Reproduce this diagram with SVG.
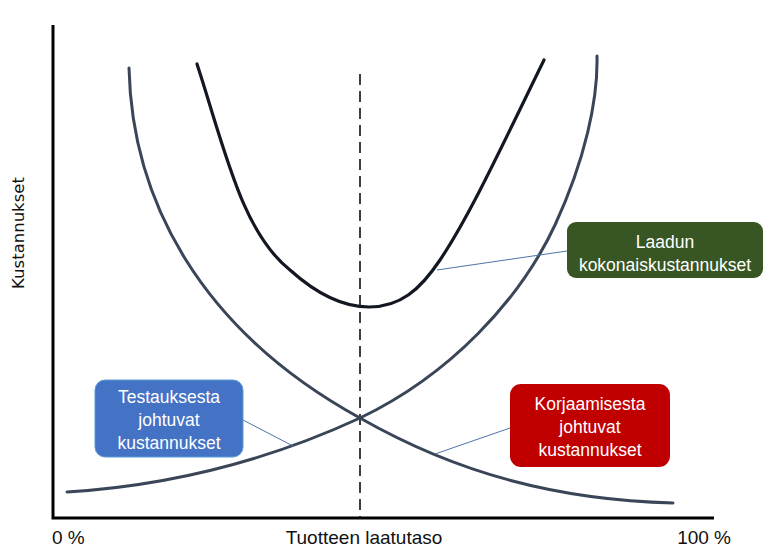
<svg xmlns="http://www.w3.org/2000/svg" width="771" height="550" viewBox="0 0 771 550">
  <style>
    .axis { stroke: #000; stroke-width: 3; fill: none; }
    .curve { fill: none; stroke: #3a4658; stroke-width: 3; stroke-linecap: round; }
    .total { fill: none; stroke: #121722; stroke-width: 3.2; stroke-linecap: round; }
    .leader { stroke: #4f73a8; stroke-width: 1; fill: none; }
    .lbl { font-family: "Liberation Sans Narrow", "Liberation Sans", Arial, sans-serif; font-size: 19px; fill: #111; }
    .box-text { font-family: "Liberation Sans Narrow", "Liberation Sans", Arial, sans-serif; font-size: 17.5px; fill: #fff; text-anchor: middle; }
  </style>
  <rect width="771" height="550" fill="#fff"/>

  <!-- axes -->
  <g id="axes">
    <path class="axis" d="M53,25 V518 H714"/>
    <line x1="360" y1="74" x2="360" y2="518" stroke="#000" stroke-width="1.5" stroke-dasharray="11,6"/>
  </g>

  <!-- cost curves -->
  <g id="curves">
    <path id="testing-curve" class="curve" d="M67,492 C180,485 280,455 360,418 C450,375 520,300 555,225 C585,160 598,100 597,56"/>
    <path id="repair-curve" class="curve" d="M129,68 C132,200 200,330 360,418 C460,475 560,500 673,503"/>
    <path id="total-curve" class="total" d="M197,64 C225,150 242,232 290,270 C320,297 345,307 369,307 C400,307 420,290 440,260 C470,215 500,150 544,60"/>
  </g>

  <!-- leader lines from labels to curves -->
  <g id="connectors">
    <line class="leader" x1="567" y1="251" x2="437" y2="270"/>
    <line class="leader" x1="243" y1="420" x2="293" y2="446"/>
    <line class="leader" x1="510" y1="428" x2="435" y2="454"/>
  </g>

  <g id="total-label">
    <rect x="567" y="222" width="196" height="56" rx="9" fill="#375623"/>
    <text class="box-text" x="665" y="248">Laadun</text>
    <text class="box-text" x="665" y="271">kokonaiskustannukset</text>
  </g>

  <g id="testing-label">
    <rect x="95" y="380" width="148" height="77" rx="10" fill="#4472c4" stroke="#5b9bd5" stroke-width="1"/>
    <text class="box-text" x="169" y="403">Testauksesta</text>
    <text class="box-text" x="169" y="426">johtuvat</text>
    <text class="box-text" x="169" y="449">kustannukset</text>
  </g>

  <g id="repair-label">
    <rect x="510" y="384" width="160" height="83" rx="11" fill="#c00000"/>
    <text class="box-text" x="590" y="410">Korjaamisesta</text>
    <text class="box-text" x="590" y="433">johtuvat</text>
    <text class="box-text" x="590" y="456">kustannukset</text>
  </g>

  <!-- axis labels -->
  <g id="axis-labels">
    <text class="lbl" x="52" y="544">0 %</text>
    <text class="lbl" x="364" y="544" text-anchor="middle">Tuotteen laatutaso</text>
    <text class="lbl" x="731" y="544" text-anchor="end">100 %</text>
    <text x="24" y="233" transform="rotate(-90 24 233)" text-anchor="middle" font-family="'DejaVu Sans', 'Liberation Sans', sans-serif" font-size="16.5" fill="#111">Kustannukset</text>
  </g>
</svg>
